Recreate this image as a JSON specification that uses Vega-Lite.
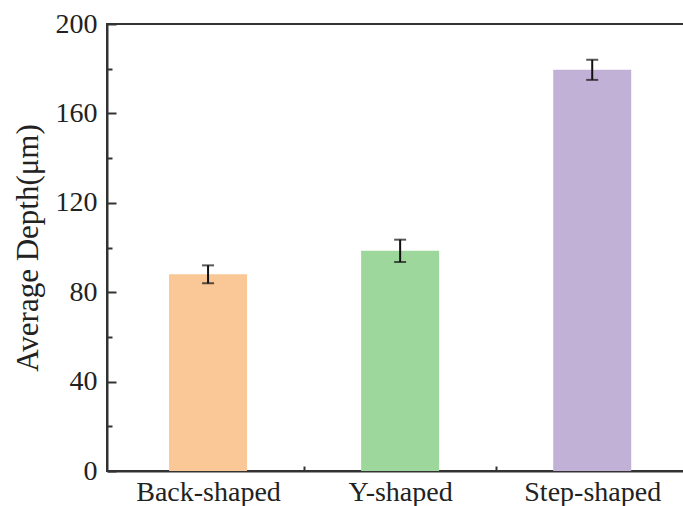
{
  "$schema": "https://vega.github.io/schema/vega-lite/v6.json",
  "autosize": {"type": "none"},
  "padding": {"left": 107, "top": 24, "right": 0, "bottom": 35},
  "width": 578,
  "height": 447,
  "background": "white",
  "config": {
    "view": {"stroke": "#333333", "strokeWidth": 2},
    "font": "Liberation Serif",
    "axis": {
      "grid": false,
      "domainColor": "#333333",
      "domainWidth": 2,
      "tickColor": "#333333",
      "tickWidth": 2,
      "labelFont": "Liberation Serif",
      "labelFontSize": 28,
      "labelColor": "#222222",
      "titleFont": "Liberation Serif",
      "titleFontSize": 31,
      "titleFontWeight": "normal",
      "titleColor": "#222222"
    }
  },
  "data": {
    "values": [
      {"idx": 1, "shape": "Back-shaped", "depth": 88, "lo": 84, "hi": 92},
      {"idx": 2, "shape": "Y-shaped", "depth": 98.5, "lo": 93.5, "hi": 103.5},
      {"idx": 3, "shape": "Step-shaped", "depth": 179.5, "lo": 175, "hi": 184}
    ]
  },
  "layer": [
    {
      "mark": {"type": "bar", "width": 78},
      "encoding": {
        "x": {
          "field": "idx", "type": "quantitative",
          "scale": {"domain": [0.5, 3.457], "nice": false, "zero": false},
          "axis": {
            "title": null,
            "values": [1, 1.5, 2, 2.5, 3],
            "labelExpr": "datum.value == 1 ? 'Back-shaped' : datum.value == 2 ? 'Y-shaped' : datum.value == 3 ? 'Step-shaped' : ''",
            "tickSize": {"condition": {"test": "datum.value % 1 === 0", "value": -8}, "value": -5},
            "labelPadding": 15,
            "labelFlush": false,
            "labelOverlap": false
          }
        },
        "y": {
          "field": "depth", "type": "quantitative",
          "scale": {"domain": [0, 200], "nice": false},
          "axis": {
            "title": "Average Depth(μm)",
            "values": [0, 20, 40, 60, 80, 100, 120, 140, 160, 180, 200],
            "labelExpr": "datum.value % 40 === 0 ? datum.label : ''",
            "tickSize": {"condition": {"test": "datum.value % 40 === 0", "value": -9}, "value": -5},
            "labelPadding": 19,
            "titlePadding": 11,
            "labelFlush": false,
            "labelOverlap": false
          }
        },
        "y2": {"datum": 0},
        "color": {
          "field": "shape", "type": "nominal",
          "scale": {"domain": ["Back-shaped", "Y-shaped", "Step-shaped"], "range": ["#FAC796", "#9DD79B", "#C2B1D7"]},
          "legend": null
        }
      }
    },
    {
      "mark": {"type": "rule", "color": "#111111", "strokeWidth": 2},
      "encoding": {
        "x": {"field": "idx", "type": "quantitative"},
        "y": {"field": "lo", "type": "quantitative"},
        "y2": {"field": "hi"}
      }
    },
    {
      "mark": {"type": "tick", "orient": "horizontal", "color": "#111111", "size": 12, "thickness": 2},
      "encoding": {
        "x": {"field": "idx", "type": "quantitative"},
        "y": {"field": "lo", "type": "quantitative"}
      }
    },
    {
      "mark": {"type": "tick", "orient": "horizontal", "color": "#111111", "size": 12, "thickness": 2},
      "encoding": {
        "x": {"field": "idx", "type": "quantitative"},
        "y": {"field": "hi", "type": "quantitative"}
      }
    }
  ]
}
